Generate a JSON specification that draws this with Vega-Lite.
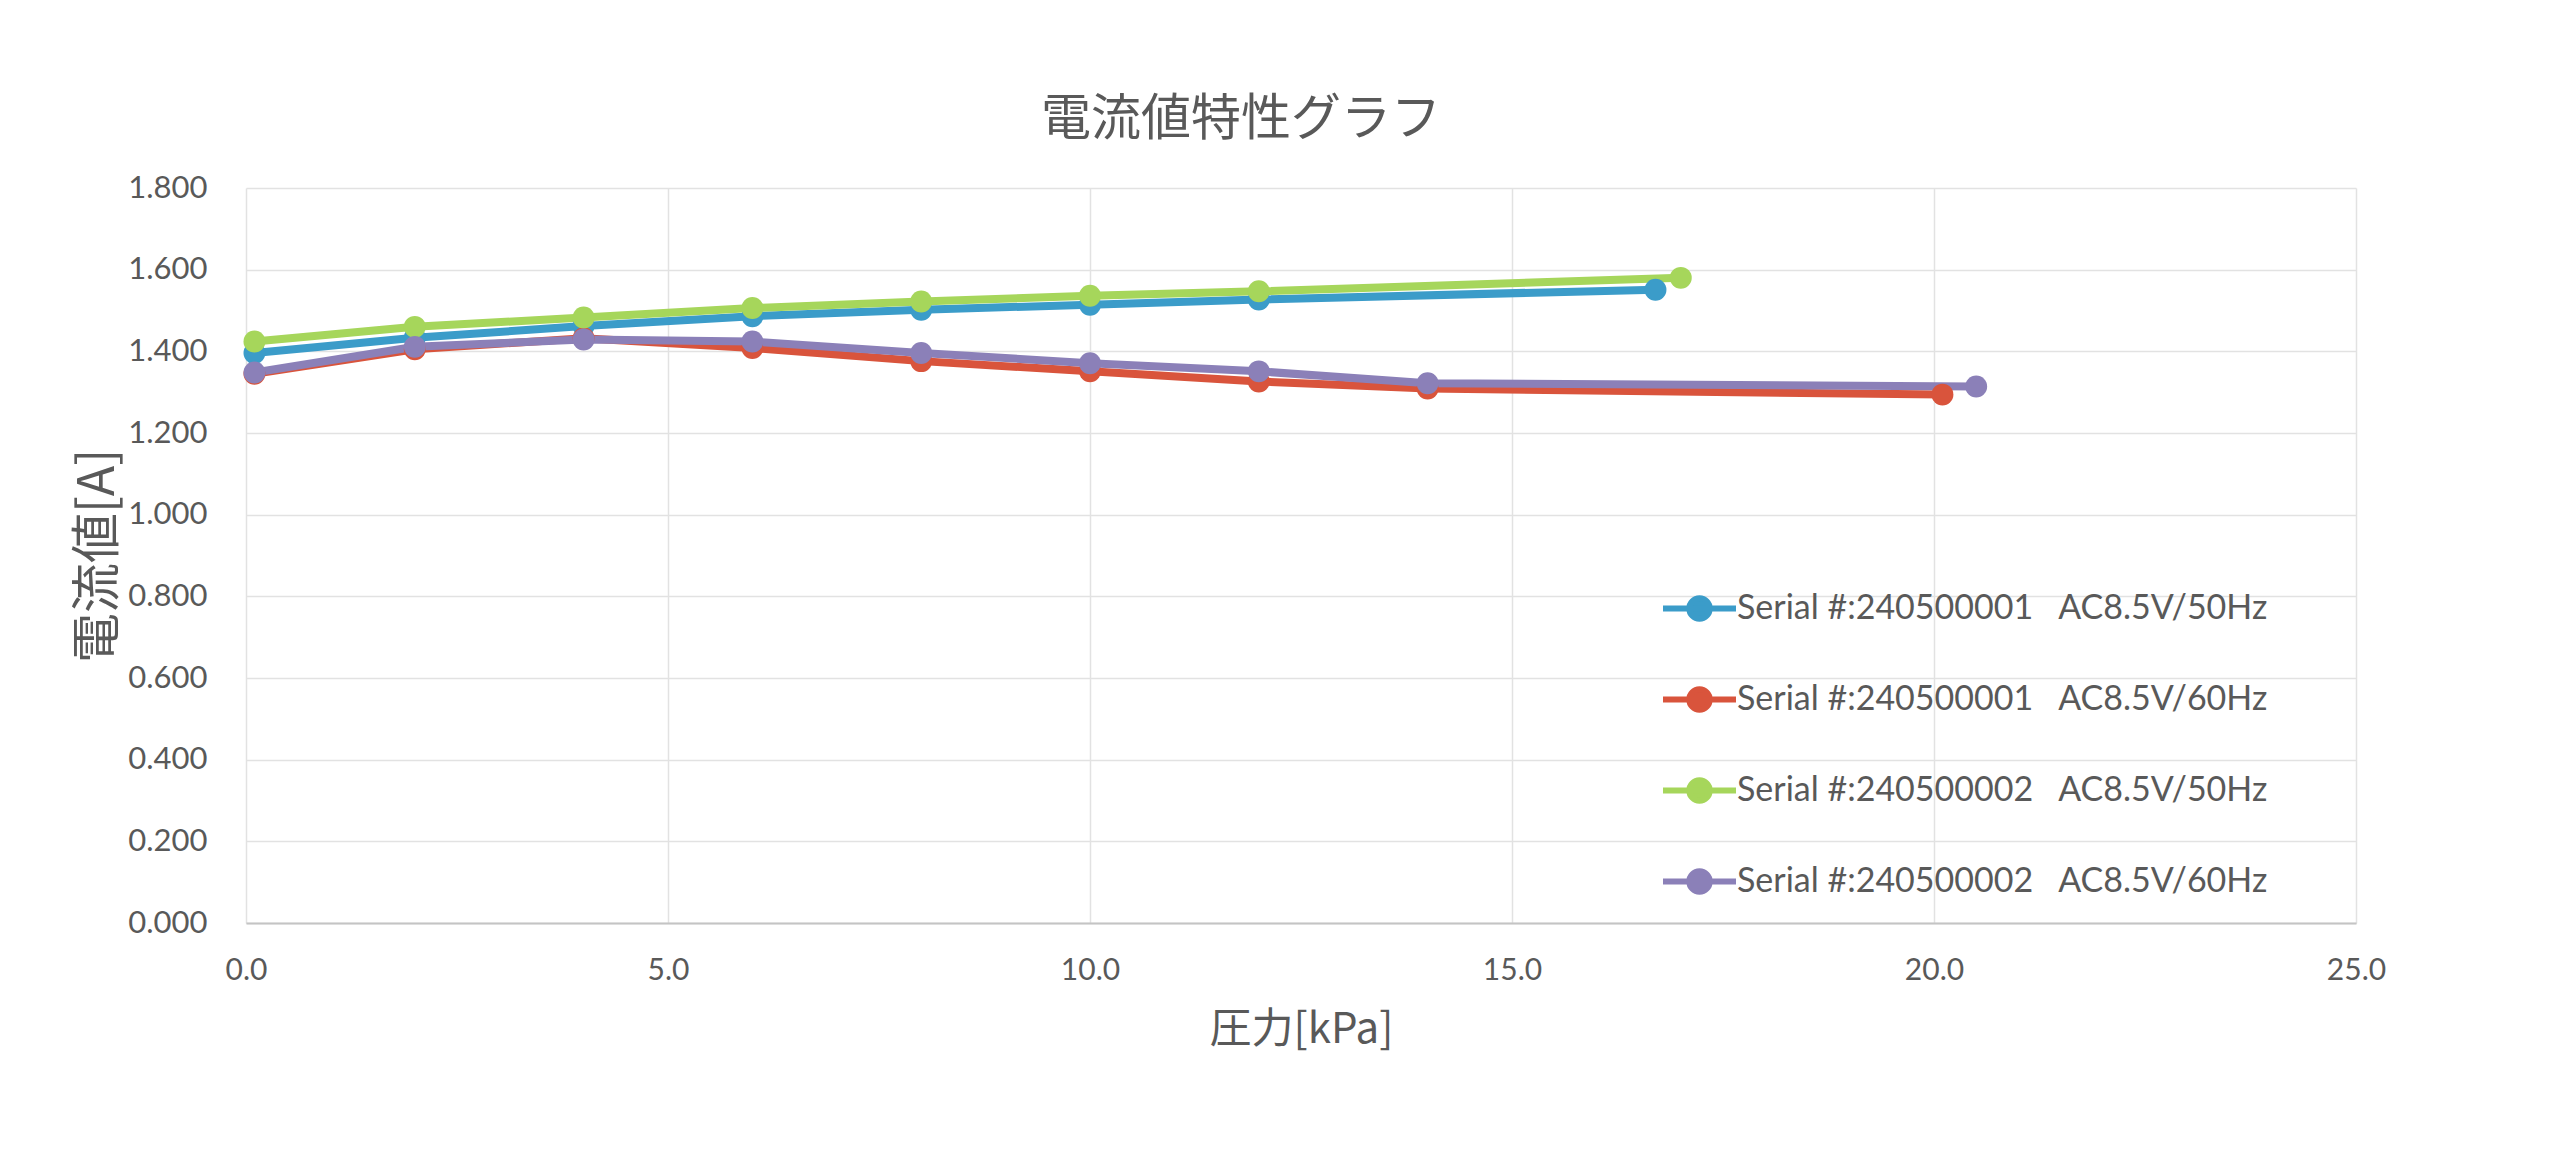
{
  "$schema": "https://vega.github.io/schema/vega-lite/v6.json",
  "width": 2110,
  "height": 735,
  "autosize": {"type": "none"},
  "padding": {"left": 246, "top": 188, "right": 204, "bottom": 233},
  "background": "white",
  "title": {
    "text": "電流値特性グラフ",
    "font": "Noto Sans CJK JP",
    "fontSize": 50,
    "fontWeight": "normal",
    "color": "#595959",
    "anchor": "middle",
    "frame": "group",
    "dx": -60,
    "offset": 27
  },
  "data": {
    "values": [
      {"series": "Serial #:240500001\u00a0\u00a0\u00a0AC8.5V/50Hz", "p": 0.1, "i": 1.396},
      {"series": "Serial #:240500001\u00a0\u00a0\u00a0AC8.5V/50Hz", "p": 2.0, "i": 1.433},
      {"series": "Serial #:240500001\u00a0\u00a0\u00a0AC8.5V/50Hz", "p": 4.0, "i": 1.462},
      {"series": "Serial #:240500001\u00a0\u00a0\u00a0AC8.5V/50Hz", "p": 6.0, "i": 1.486},
      {"series": "Serial #:240500001\u00a0\u00a0\u00a0AC8.5V/50Hz", "p": 8.0, "i": 1.502},
      {"series": "Serial #:240500001\u00a0\u00a0\u00a0AC8.5V/50Hz", "p": 10.0, "i": 1.514},
      {"series": "Serial #:240500001\u00a0\u00a0\u00a0AC8.5V/50Hz", "p": 12.0, "i": 1.527},
      {"series": "Serial #:240500001\u00a0\u00a0\u00a0AC8.5V/50Hz", "p": 16.7, "i": 1.551},
      {"series": "Serial #:240500001\u00a0\u00a0\u00a0AC8.5V/60Hz", "p": 0.1, "i": 1.345},
      {"series": "Serial #:240500001\u00a0\u00a0\u00a0AC8.5V/60Hz", "p": 2.0, "i": 1.405},
      {"series": "Serial #:240500001\u00a0\u00a0\u00a0AC8.5V/60Hz", "p": 4.0, "i": 1.432},
      {"series": "Serial #:240500001\u00a0\u00a0\u00a0AC8.5V/60Hz", "p": 6.0, "i": 1.408},
      {"series": "Serial #:240500001\u00a0\u00a0\u00a0AC8.5V/60Hz", "p": 8.0, "i": 1.376},
      {"series": "Serial #:240500001\u00a0\u00a0\u00a0AC8.5V/60Hz", "p": 10.0, "i": 1.351},
      {"series": "Serial #:240500001\u00a0\u00a0\u00a0AC8.5V/60Hz", "p": 12.0, "i": 1.326},
      {"series": "Serial #:240500001\u00a0\u00a0\u00a0AC8.5V/60Hz", "p": 14.0, "i": 1.309},
      {"series": "Serial #:240500001\u00a0\u00a0\u00a0AC8.5V/60Hz", "p": 20.1, "i": 1.294},
      {"series": "Serial #:240500002\u00a0\u00a0\u00a0AC8.5V/50Hz", "p": 0.1, "i": 1.424},
      {"series": "Serial #:240500002\u00a0\u00a0\u00a0AC8.5V/50Hz", "p": 2.0, "i": 1.460},
      {"series": "Serial #:240500002\u00a0\u00a0\u00a0AC8.5V/50Hz", "p": 4.0, "i": 1.483},
      {"series": "Serial #:240500002\u00a0\u00a0\u00a0AC8.5V/50Hz", "p": 6.0, "i": 1.506},
      {"series": "Serial #:240500002\u00a0\u00a0\u00a0AC8.5V/50Hz", "p": 8.0, "i": 1.522},
      {"series": "Serial #:240500002\u00a0\u00a0\u00a0AC8.5V/50Hz", "p": 10.0, "i": 1.536},
      {"series": "Serial #:240500002\u00a0\u00a0\u00a0AC8.5V/50Hz", "p": 12.0, "i": 1.547},
      {"series": "Serial #:240500002\u00a0\u00a0\u00a0AC8.5V/50Hz", "p": 17.0, "i": 1.580},
      {"series": "Serial #:240500002\u00a0\u00a0\u00a0AC8.5V/60Hz", "p": 0.1, "i": 1.348},
      {"series": "Serial #:240500002\u00a0\u00a0\u00a0AC8.5V/60Hz", "p": 2.0, "i": 1.411},
      {"series": "Serial #:240500002\u00a0\u00a0\u00a0AC8.5V/60Hz", "p": 4.0, "i": 1.429},
      {"series": "Serial #:240500002\u00a0\u00a0\u00a0AC8.5V/60Hz", "p": 6.0, "i": 1.424},
      {"series": "Serial #:240500002\u00a0\u00a0\u00a0AC8.5V/60Hz", "p": 8.0, "i": 1.396},
      {"series": "Serial #:240500002\u00a0\u00a0\u00a0AC8.5V/60Hz", "p": 10.0, "i": 1.371},
      {"series": "Serial #:240500002\u00a0\u00a0\u00a0AC8.5V/60Hz", "p": 12.0, "i": 1.351},
      {"series": "Serial #:240500002\u00a0\u00a0\u00a0AC8.5V/60Hz", "p": 14.0, "i": 1.322},
      {"series": "Serial #:240500002\u00a0\u00a0\u00a0AC8.5V/60Hz", "p": 20.5, "i": 1.314}
    ]
  },
  "mark": {
    "type": "line",
    "strokeWidth": 8,
    "point": {"filled": true, "size": 480, "opacity": 1}
  },
  "encoding": {
    "x": {
      "field": "p",
      "type": "quantitative",
      "scale": {"domain": [0, 25], "nice": false, "zero": false},
      "axis": {
        "title": "圧力[kPa]",
        "values": [0, 5, 10, 15, 20, 25],
        "format": ".1f",
        "grid": true,
        "gridColor": "#e2e2e2",
        "gridWidth": 1.5,
        "domain": true,
        "domainColor": "#c4c4c4",
        "domainWidth": 2,
        "ticks": false,
        "labelFont": "Lato",
        "labelFontSize": 30,
        "labelColor": "#595959",
        "labelPadding": 32,
        "labelFlush": false,
        "titleFont": "Noto Sans CJK JP",
        "titleFontSize": 42,
        "titleFontWeight": "normal",
        "titleColor": "#595959",
        "titlePadding": 24
      }
    },
    "y": {
      "field": "i",
      "type": "quantitative",
      "scale": {"domain": [0, 1.8], "nice": false},
      "axis": {
        "title": "電流値[A]",
        "values": [0, 0.2, 0.4, 0.6, 0.8, 1.0, 1.2, 1.4, 1.6, 1.8],
        "format": ".3f",
        "grid": true,
        "gridColor": "#e2e2e2",
        "gridWidth": 1.5,
        "domain": false,
        "ticks": false,
        "labelFont": "Lato",
        "labelFontSize": 31,
        "labelColor": "#595959",
        "labelPadding": 39,
        "labelFlush": false,
        "titleFont": "Noto Sans CJK JP",
        "titleFontSize": 50,
        "titleFontWeight": "normal",
        "titleColor": "#595959",
        "titlePadding": 4
      }
    },
    "color": {
      "field": "series",
      "type": "nominal",
      "sort": null,
      "scale": {
        "domain": [
          "Serial #:240500001\u00a0\u00a0\u00a0AC8.5V/50Hz",
          "Serial #:240500001\u00a0\u00a0\u00a0AC8.5V/60Hz",
          "Serial #:240500002\u00a0\u00a0\u00a0AC8.5V/50Hz",
          "Serial #:240500002\u00a0\u00a0\u00a0AC8.5V/60Hz"
        ],
        "range": ["#3b9cc9", "#d9543c", "#a6d65b", "#8b80b8"]
      },
      "legend": {
        "title": null,
        "orient": "none",
        "legendX": 1414,
        "legendY": 381,
        "padding": 0,
        "symbolType": "M-1,0L1,0M0.28,0A0.28,0.28,0,1,1,-0.28,0A0.28,0.28,0,1,1,0.28,0Z",
        "symbolSize": 5329,
        "symbolStrokeWidth": 6,
        "symbolOpacity": 1,
        "labelFont": "Lato",
        "labelFontSize": 34,
        "labelColor": "#595959",
        "labelOffset": -2,
        "labelLimit": 800,
        "rowPadding": 29,
        "encode": {
          "symbols": {
            "update": {
              "fill": {"field": "value", "scale": "color"},
              "stroke": {"field": "value", "scale": "color"}
            }
          }
        }
      }
    }
  },
  "config": {
    "view": {"stroke": null}
  }
}
